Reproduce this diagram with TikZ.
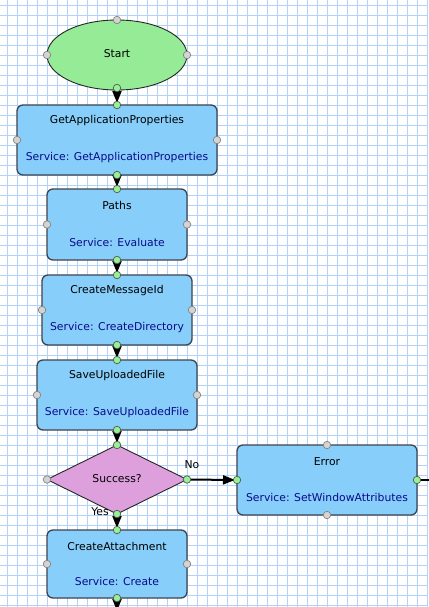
\documentclass[tikz,border=0pt]{standalone}
\usepackage{fontspec}
\setmainfont{DejaVu Sans}
\usetikzlibrary{shapes.geometric,arrows.meta}
\definecolor{gridc}{RGB}{178,210,248}
\definecolor{boxfill}{RGB}{135,206,250}
\definecolor{startfill}{RGB}{150,236,150}
\definecolor{decfill}{RGB}{221,160,221}
\definecolor{boxline}{RGB}{62,68,78}
\definecolor{svc}{RGB}{10,10,140}
\definecolor{hgray}{RGB}{212,212,212}
\definecolor{hgrayline}{RGB}{130,130,130}
\definecolor{hgreen}{RGB}{150,240,150}
\definecolor{hgreenline}{RGB}{80,90,80}
\pgfdeclarelayer{bg}
\pgfdeclarelayer{conn}
\pgfsetlayers{bg,conn,main}
\tikzset{
  x=1pt, y=-1pt,
  gridline/.style={draw=gridc, line width=0.8pt},
  stepbox/.style={draw=boxline, line width=1.3pt, fill=boxfill, rounded corners=6pt, inner sep=0pt, outer sep=0pt},
  startnode/.style={ellipse, draw=black!85, line width=0.9pt, fill=startfill, inner sep=0pt, outer sep=0pt, minimum width=140pt, minimum height=70pt},
  decnode/.style={diamond, aspect=2, draw=black!85, line width=0.9pt, fill=decfill, inner sep=0pt, outer sep=0pt, minimum width=140pt, minimum height=69pt},
  ttl/.style={font=\fontsize{10.8}{13}\selectfont, inner sep=0pt, anchor=center, text=black},
  svctxt/.style={font=\fontsize{10.8}{13}\selectfont, inner sep=0pt, anchor=center, text=svc},
  hg/.style={circle, draw=hgrayline, fill=hgray, line width=0.7pt, minimum size=7.5pt, inner sep=0pt, outer sep=0pt},
  hgr/.style={circle, draw=hgreenline, fill=hgreen, line width=0.7pt, minimum size=7.5pt, inner sep=0pt, outer sep=0pt},
  flow/.style={line width=2pt, -{Triangle[length=12pt,width=9pt]}, shorten >=2pt},
  flowplain/.style={line width=2pt},
  lbl/.style={font=\fontsize{10.8}{13}\selectfont, inner sep=0pt, anchor=center}
}
\begin{document}
\begin{tikzpicture}
\useasboundingbox (0,0) rectangle (428,607);
\clip (0,0) rectangle (428,607);
\begin{pgfonlayer}{bg}
\fill[white] (0,0) rectangle (428,607);
\foreach \x in {7,17,...,427} \draw[gridline] (\x,0) -- (\x,607);
\foreach \y in {5,15,...,605} \draw[gridline] (0,\y) -- (428,\y);

% shapes
\node[startnode] (start) at (117,55) {};
\node[stepbox, minimum width=200pt, minimum height=70pt] (gap) at (117,140) {};
\node[stepbox, minimum width=140pt, minimum height=71pt] (paths) at (117,224.5) {};
\node[stepbox, minimum width=150pt, minimum height=70pt] (cmi) at (117,310) {};
\node[stepbox, minimum width=160pt, minimum height=70pt] (suf) at (117,395) {};
\node[decnode] (dec) at (117,479.5) {};
\node[stepbox, minimum width=180pt, minimum height=70pt] (err) at (327,480) {};
\node[stepbox, minimum width=140pt, minimum height=68pt] (ca) at (117,564) {};
\end{pgfonlayer}

% texts
\node[ttl] (startt) at (117,54) {Start};
\node[ttl] (dect) at (117,479) {Success?};
\node[ttl] (gapt) at ([yshift=-16pt]gap.north) {GetApplicationProperties};
\node[svctxt] (gaps) at ([yshift=17.5pt]gap.south) {Service: GetApplicationProperties};
\node[ttl] (pathst) at ([yshift=-16.5pt]paths.north) {Paths};
\node[svctxt] (pathss) at ([yshift=17.5pt]paths.south) {Service: Evaluate};
\node[ttl] (cmit) at ([yshift=-16pt]cmi.north) {CreateMessageId};
\node[svctxt] (cmis) at ([yshift=17.5pt]cmi.south) {Service: CreateDirectory};
\node[ttl] (suft) at ([yshift=-16pt]suf.north) {SaveUploadedFile};
\node[svctxt] (sufs) at ([yshift=17.5pt]suf.south) {Service: SaveUploadedFile};
\node[ttl] (errt) at ([yshift=-17pt]err.north) {Error};
\node[svctxt] (errs) at ([yshift=17.5pt]err.south) {Service: SetWindowAttributes};
\node[ttl] (cat) at ([yshift=-16pt]ca.north) {CreateAttachment};
\node[svctxt] (cas) at ([yshift=16.5pt]ca.south) {Service: Create};

\node[lbl] (nolbl) at (192,465) {No};
\node[lbl] (yeslbl) at (100,512) {Yes};

% handles
\node[hg] (start-n) at (start.north) {};
\node[hg] (start-w) at (start.west) {};
\node[hg] (start-e) at (start.east) {};
\node[hgr] (start-s) at ([yshift=2pt]start.south) {};

\foreach \n in {gap,paths,cmi,suf,ca} {
  \node[hgr] (\n-n) at (\n.north) {};
  \node[hgr] (\n-s) at (\n.south) {};
  \node[hg] (\n-w) at (\n.west) {};
  \node[hg] (\n-e) at (\n.east) {};
}
\node[hgr] (dec-n) at (dec.north) {};
\node[hgr] (dec-s) at (dec.south) {};
\node[hg] (dec-w) at (dec.west) {};
\node[hgr] (dec-e) at (dec.east) {};
\node[hg] (err-n) at (err.north) {};
\node[hg] (err-s) at (err.south) {};
\node[hgr] (err-w) at (err.west) {};
\node[hgr] (err-e) at (err.east) {};

\coordinate (errout) at (445,480);
\coordinate (caout) at (117,613);

% connectors
\begin{pgfonlayer}{conn}
\draw[flow] (start-s.center) -- (gap-n.center);
\draw[flow] (gap-s.center) -- (paths-n.center);
\draw[flow] (paths-s.center) -- (cmi-n.center);
\draw[flow] (cmi-s.center) -- (suf-n.center);
\draw[flow] (suf-s.center) -- (dec-n.center);
\draw[flow] (dec-s.center) -- (ca-n.center);
\draw[flow] (dec-e.center) -- (err-w.center);
\draw[flowplain] (err-e.center) -- (errout);
\draw[flow] (ca-s.center) -- (caout);
\end{pgfonlayer}
\end{tikzpicture}
\end{document}
